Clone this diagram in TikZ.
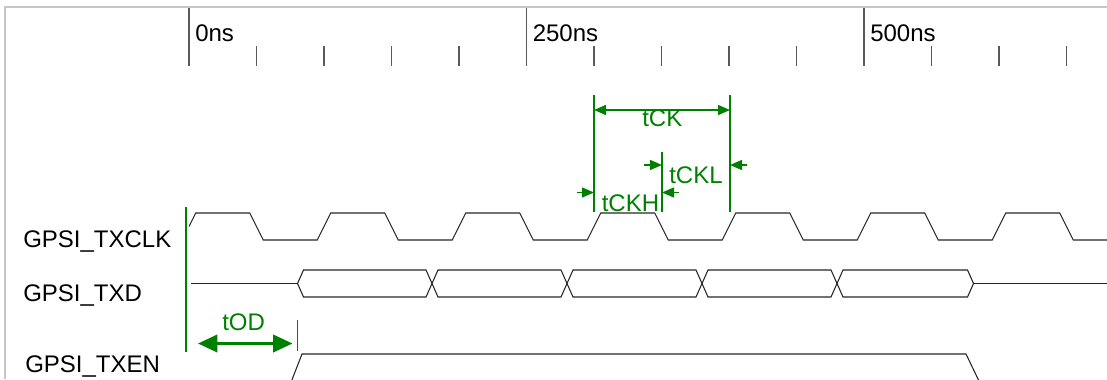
\documentclass[tikz,border=0pt]{standalone}
\usepackage{fontspec}
\setmainfont{Liberation Sans}
\usetikzlibrary{arrows.meta}
\definecolor{dimgreen}{RGB}{0,128,0}
\begin{document}
\begin{tikzpicture}
  [x=0.75pt,y=-0.75pt,
   every node/.style={inner sep=0pt,anchor=base west,font=\fontsize{18}{20}\selectfont},
   wave/.style={black!85,line width=0.8pt},
   rulertick/.style={black!65,line width=0.8pt},
   dimline/.style={dimgreen,line width=1.2pt},
   dimarrow/.style={dimgreen,line width=1.1pt,-{Triangle[length=9pt,width=7.5pt]}},
   dimboth/.style={dimgreen,line width=1.1pt,{Triangle[length=9pt,width=7.5pt]}-{Triangle[length=9pt,width=7.5pt]}}]
  \useasboundingbox (0,0) rectangle (1107,379);
  \clip (0,0) rectangle (1107,379);
  \draw[gray!45,line width=1.5pt] (5,379) -- (5,6.5) -- (1107,6.5);

  % time ruler
  \foreach \i in {0,...,13}
    \draw[rulertick] ({189+67.5*\i},46) -- ({189+67.5*\i},66);
  \foreach \i/\t in {0/0ns,5/250ns,10/500ns} {
    \draw[rulertick] ({189+67.5*\i},8) -- ({189+67.5*\i},66);
    \node (t\i) at ({195+67.5*\i},41.5) {\t};
  }

  % signal names
  \node (clk) at (23,247) {GPSI\_TXCLK};
  \node (txd) at (23,301) {GPSI\_TXD};
  \node (txen) at (25,372.5) {GPSI\_TXEN};

  % waveforms
  \draw[wave] (189,226.5) foreach \k in {0,...,6} {
      -- ({195.75+135*\k},213) -- ({249.75+135*\k},213)
      -- ({263.25+135*\k},240) -- ({317.25+135*\k},240)};
  \draw[wave] (190.7,283.5) -- (297.5,283.5);
  \foreach \a/\b in {297.5/432,432/567,567/702,702/837,837/973.5}
    \draw[wave] (\a,283.5) -- ({\a+6},270) -- ({\b-6},270) -- (\b,283.5)
      -- ({\b-6},297) -- ({\a+6},297) -- cycle;
  \draw[wave] (973.5,283.5) -- (1107,283.5);
  \draw[wave] (189,381) -- (291.5,381) -- (302,354) -- (966,354) -- (979,381) -- (1107,381);

  % timing marks
  \draw[dimline] (186,207) -- (186,352);
  \draw[dimline] (297.5,320) -- (297.5,351);
  \draw[dimline] (594,95) -- (594,212);
  \draw[dimline] (662,152) -- (662,212);
  \draw[dimline] (730,95) -- (730,212);

  \coordinate (odA) at (198,343.5);
  \coordinate (odB) at (292.5,343.5);
  \draw[dimgreen,line width=2pt,{Triangle[length=14.5pt,width=13pt]}-{Triangle[length=14.5pt,width=13pt]}] (odA) -- (odB);
  \node[text=dimgreen] (od) at (222,330) {tOD};

  \coordinate (ckA) at (594,110);
  \coordinate (ckB) at (730,110);
  \draw[dimboth] (ckA) -- (ckB);
  \node[text=dimgreen] (ck) at (642,126) {tCK};

  \coordinate (ckhA) at (577,192.5);
  \coordinate (ckhB) at (679,192.5);
  \draw[dimarrow] (ckhA) -- (594,192.5);
  \draw[dimarrow] (ckhB) -- (662,192.5);
  \node[text=dimgreen] (ckh) at (601.5,211.5) {tCKH};

  \coordinate (cklA) at (644,165);
  \coordinate (cklB) at (747,165);
  \draw[dimarrow] (cklA) -- (662,165);
  \draw[dimarrow] (cklB) -- (730,165);
  \node[text=dimgreen] (ckl) at (669,183.5) {tCKL};
\end{tikzpicture}
\end{document}
